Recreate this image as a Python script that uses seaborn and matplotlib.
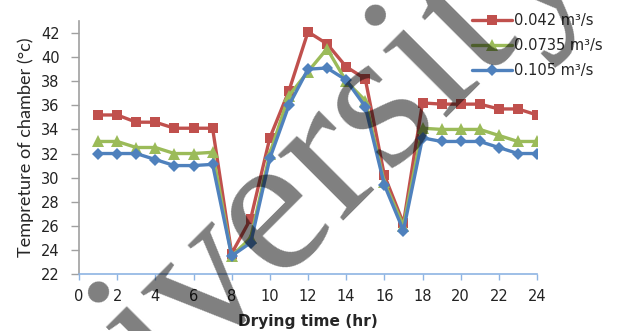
import matplotlib
matplotlib.use("Agg")
import matplotlib.pyplot as plt
from matplotlib.lines import Line2D
import numpy as np
import pandas as pd
import seaborn as sns

# Drying hours and chamber temperatures for three air flow rates
hours = list(range(1, 25))
temp_0042 = [35.2, 35.2, 34.6, 34.6, 34.1, 34.1, 34.1, 23.7, 26.6, 33.3,
             37.2, 42.1, 41.1, 39.2, 38.2, 30.2, 26.2, 36.2, 36.1, 36.1,
             36.1, 35.7, 35.7, 35.2]
temp_00735 = [33.0, 33.0, 32.5, 32.5, 32.0, 32.0, 32.1, 23.5, 25.0, 32.0,
              36.8, 38.8, 40.7, 38.0, 36.4, 29.6, 26.0, 34.1, 34.0, 34.0,
              34.0, 33.5, 33.0, 33.0]
temp_0105 = [32.0, 32.0, 32.0, 31.5, 31.0, 31.0, 31.1, 23.5, 24.6, 31.6,
             36.0, 39.0, 39.1, 38.1, 35.9, 29.4, 25.6, 33.3, 33.0, 33.0,
             33.0, 32.5, 32.0, 32.0]
rate_labels = ["0.042 m³/s", "0.0735 m³/s", "0.105 m³/s"]
colors = ["#C0504D", "#9BBB59", "#4F81BD"]
markers = ["s", "^", "D"]
msizes = [7.5, 8.0, 6.5]

df = pd.concat([
    pd.DataFrame({"hour": hours, "temp": vals, "rate": lab})
    for vals, lab in zip([temp_0042, temp_00735, temp_0105], rate_labels)
])

sns.set_theme(style="white")
plt.rcParams["font.family"] = ["DejaVu Sans"]

fig = plt.figure(figsize=(6.18, 3.31), dpi=100)
ax = fig.add_axes([79 / 618, 1 - 274 / 331, (537 - 79) / 618, (274 - 21) / 331])

for lab, col, mk, ms in zip(rate_labels, colors, markers, msizes):
    sub = df[df["rate"] == lab]
    sns.lineplot(data=sub, x="hour", y="temp", color=col, marker=mk,
                 markersize=ms, markeredgewidth=0, linewidth=2.4,
                 legend=False, ax=ax, sort=True)

ax.set_xlim(0, 24)
ax.set_ylim(22, 43)
ax.set_xticks(np.arange(0, 25, 2))
ax.set_yticks(np.arange(22, 43, 2))
ax.tick_params(axis="both", labelsize=10.5, colors="#222222")
ax.tick_params(axis="x", direction="out", length=4, width=1,
               color="#8EB4E3", pad=7, bottom=True)
ax.tick_params(axis="y", direction="out", length=6, width=1,
               color="#A0A0A0", pad=8, left=True)

for side in ("top", "right"):
    ax.spines[side].set_visible(False)
ax.spines["left"].set_color("#A0A0A0")
ax.spines["left"].set_linewidth(1.2)
ax.spines["bottom"].set_color("#8EB4E3")
ax.spines["bottom"].set_linewidth(1.2)

xlab = ax.set_xlabel("Drying time (hr)", fontsize=10, fontweight="bold",
                     family="DejaVu Sans", labelpad=7)
ylab = ax.set_ylabel("Tempreture of chamber (°c)", fontsize=12,
                     family="Lato", labelpad=5)

handles = [Line2D([0], [0], color=c, marker=m, markersize=s,
                  markeredgewidth=0, linewidth=2.4)
           for c, m, s in zip(colors, markers, msizes)]
leg = fig.legend(handles, rate_labels, loc="upper left",
                 bbox_to_anchor=(462 / 618, 1 - 3 / 331),
                 frameon=False, fontsize=10.5, handlelength=2.75,
                 handletextpad=0.1, labelspacing=0.68, borderpad=0.2)

# Size the axis titles to their intended pixel extents
renderer = fig.canvas.get_renderer()
for txt, target, use_w in ((xlab, 140, True), (ylab, 220, False)):
    bb = txt.get_window_extent(renderer)
    cur = bb.width if use_w else bb.height
    txt.set_fontsize(txt.get_fontsize() * target / cur)

# Diagonal "University" watermark laid over the chart
fig.text(-8 / 618, -236 / 331, "University", fontsize=145,
         family="Liberation Serif", color="black", alpha=0.5,
         rotation=45, rotation_mode="anchor", ha="left", va="baseline",
         zorder=20)

fig.savefig("out.png", dpi=100)
